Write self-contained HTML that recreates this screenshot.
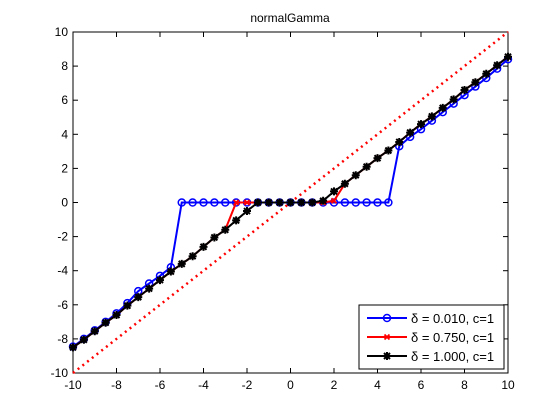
<!DOCTYPE html>
<html><head><meta charset="utf-8"><style>
body{margin:0;background:#fff;}
svg{display:block;font-family:"Liberation Sans",sans-serif;}
</style></head><body>
<svg id="chart" width="560" height="420">
<rect x="0" y="0" width="560" height="420" fill="#fff"/>
<text x="290" y="22" font-size="12" text-anchor="middle">normalGamma</text>
<g id="plot"></g>
</svg>
<script>
const xTicks = [-10,-8,-6,-4,-2,0,2,4,6,8,10];
const yTicks = [-10,-8,-6,-4,-2,0,2,4,6,8,10];
const xs = [-10,-9.5,-9,-8.5,-8,-7.5,-7,-6.5,-6,-5.5,-5,-4.5,-4,-3.5,-3,-2.5,-2,-1.5,-1,-0.5,0,0.5,1,1.5,2,2.5,3,3.5,4,4.5,5,5.5,6,6.5,7,7.5,8,8.5,9,9.5,10];
const blueY = [-8.45,-8.0,-7.5,-7.0,-6.5,-5.9,-5.2,-4.75,-4.3,-3.8,0,0,0,0,0,0,0,0,0,0,0,0,0,0,0,0,0,0,0,0,3.3,3.85,4.3,4.8,5.3,5.8,6.3,6.8,7.3,7.85,8.4];
const redY = [-8.5,-8.05,-7.55,-7.05,-6.6,-6.05,-5.55,-5.05,-4.55,-4.05,-3.6,-3.15,-2.6,-2.05,-1.6,0,0,0,0,0,0,0,0,0,0.1,1.1,1.6,2.1,2.6,3.05,3.55,4.1,4.6,5.05,5.55,6.05,6.6,7.05,7.55,8.05,8.55];
const blackY = [-8.5,-8.05,-7.55,-7.05,-6.6,-6.05,-5.55,-5.05,-4.55,-4.05,-3.6,-3.15,-2.6,-2.05,-1.6,-1.05,-0.5,0,0,0,0,0,0,0.1,0.65,1.1,1.6,2.1,2.6,3.05,3.55,4.1,4.6,5.05,5.55,6.05,6.6,7.05,7.55,8.05,8.55];
const identX = [-10,10];
const legendLabels = ["\u03b4 = 0.010, c=1","\u03b4 = 0.750, c=1","\u03b4 = 1.000, c=1"];

const L=73,R=508,T=32,B=373;
const sx=v=>L+(v+10)/20*(R-L);
const sy=v=>B-(v+10)/20*(B-T);
const NS="http://www.w3.org/2000/svg";
const g=document.getElementById('plot');
function mk(tag,at,parent){const e=document.createElementNS(NS,tag);for(const k in at)e.setAttribute(k,at[k]);(parent||g).appendChild(e);return e;}

let box=mk('rect',{x:L,y:T,width:R-L,height:B-T,fill:'#fff',stroke:'#000','stroke-width':1});


xTicks.forEach(t=>{
  const X=sx(t);
  mk('line',{x1:X,y1:B,x2:X,y2:B-5,stroke:'#000'});
  mk('line',{x1:X,y1:T,x2:X,y2:T+5,stroke:'#000'});
  const tx=mk('text',{x:X,y:B+16,'font-size':12,'text-anchor':'middle'});tx.textContent=t;
  
  
});
yTicks.forEach(t=>{
  const Y=sy(t);
  mk('line',{x1:L,y1:Y,x2:L+5,y2:Y,stroke:'#000'});
  mk('line',{x1:R,y1:Y,x2:R-5,y2:Y,stroke:'#000'});
  const tx=mk('text',{x:L-5,y:Y+4,'font-size':12,'text-anchor':'end'});tx.textContent=t;
  
  
});
let id=mk('line',{x1:sx(identX[0]),y1:sy(identX[0]),x2:sx(identX[1]),y2:sy(identX[1]),stroke:'#f00','stroke-width':2.5,'stroke-dasharray':'2,4'});



function marker(kind,X,Y,col,parent){
  if(kind==='o') mk('circle',{cx:X,cy:Y,r:3.5,fill:'none',stroke:col,'stroke-width':1.5},parent);
  else if(kind==='x'){mk('path',{d:`M${X-2.5},${Y-2.5}L${X+2.5},${Y+2.5}M${X-2.5},${Y+2.5}L${X+2.5},${Y-2.5}`,stroke:col,'stroke-width':1.8},parent);}
  else {mk('path',{d:`M${X-4},${Y}L${X+4},${Y}M${X},${Y-4}L${X},${Y+4}M${X-3},${Y-3}L${X+3},${Y+3}M${X-3},${Y+3}L${X+3},${Y-3}`,stroke:col,'stroke-width':2},parent);}
}
function series(ys,col,kind,name,w){
  const sg=mk('g',{});
  
  
  mk('polyline',{points:xs.map((x,i)=>sx(x)+','+sy(ys[i])).join(' '),fill:'none',stroke:col,'stroke-width':w},sg);
  xs.forEach((x,i)=>marker(kind,sx(x),sy(ys[i]),col,sg));
}
series(blueY,'#00f','o','series-delta-0010',2);
series(redY,'#f00','x','series-delta-0750',2);
series(blackY,'#000','*','series-delta-1000',2);

const lg=mk('g',{});


mk('rect',{x:359,y:305,width:145,height:64,fill:'#fff',stroke:'#000'},lg);
const cols=['#00f','#f00','#000'],kinds=['o','x','*'];
legendLabels.forEach((lab,i)=>{
  const Y=318+i*19;
  const e=mk('g',{},lg);
  
  
  mk('line',{x1:367,y1:Y,x2:407,y2:Y,stroke:cols[i],'stroke-width':2},e);
  marker(kinds[i],387,Y,cols[i],e);
  const t=mk('text',{x:411,y:Y+5,'font-size':13},e);t.textContent=lab;
});
</script>
</body></html>
